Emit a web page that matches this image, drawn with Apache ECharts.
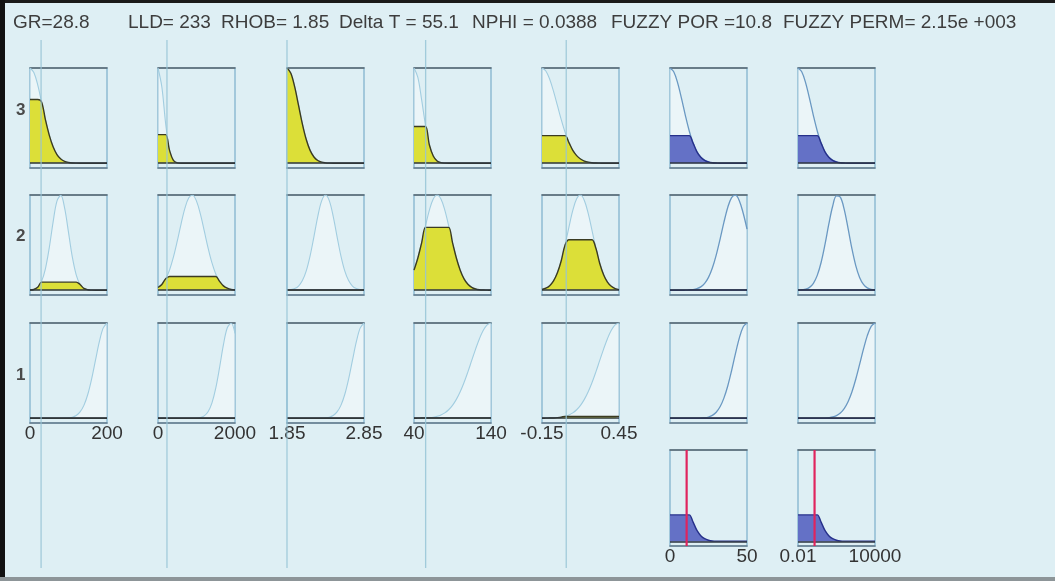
<!DOCTYPE html>
<html><head><meta charset="utf-8">
<script src="https://cdn.jsdelivr.net/npm/echarts@6/dist/echarts.min.js"></script>
<style>html,body{margin:0;padding:0;background:#deeff4;}#c{width:1055px;height:581px;}</style>
</head><body><div id="c"></div>
<script>
// ---------------- data ----------------
const headerTexts = ['GR=28.8', 'LLD= 233', 'RHOB= 1.85', 'Delta T = 55.1', 'NPHI = 0.0388', 'FUZZY POR =10.8', 'FUZZY PERM= 2.15e +003'];
const ruleLabels = ['3', '2', '1'];
const inputValues = [28.8, 233, 1.85, 55.1, 0.0388];
const outputValues = [10.8, 2150];
const ranges = [[0, 200], [0, 2000], [1.85, 2.85], [40, 140], [-0.15, 0.45], [0, 50], [0.01, 10000]];
const tickLabels = [['0', '200'], ['0', '2000'], ['1.85', '2.85'], ['40', '140'], ['-0.15', '0.45'], ['0', '50'], ['0.01', '10000']];
// sample positions (fraction of each variable's range)
const T = [0, 0.05, 0.1, 0.15, 0.2, 0.25, 0.3, 0.35, 0.4, 0.45, 0.5, 0.55, 0.6, 0.65, 0.7, 0.75, 0.8, 0.85, 0.9, 0.95, 1];
// membership curves, rows top->bottom = rule 3, rule 2, rule 1
const mfGR3 = [1, 0.952, 0.823, 0.644, 0.458, 0.295, 0.172, 0.091, 0.044, 0.019, 0.008, 0.003, 0.001, 0, 0, 0, 0, 0, 0, 0, 0];
const mfGR2 = [0.002, 0.008, 0.031, 0.093, 0.225, 0.445, 0.716, 0.936, 0.996, 0.862, 0.607, 0.347, 0.162, 0.061, 0.019, 0.005, 0.001, 0, 0, 0, 0];
const mfGR1 = [0, 0, 0, 0, 0, 0, 0, 0, 0, 0.001, 0.004, 0.011, 0.029, 0.066, 0.135, 0.249, 0.411, 0.607, 0.801, 0.946, 1];
const mfLLD3 = [1, 0.801, 0.411, 0.135, 0.029, 0.004, 0, 0, 0, 0, 0, 0, 0, 0, 0, 0, 0, 0, 0, 0, 0];
const mfLLD2 = [0.029, 0.061, 0.120, 0.213, 0.347, 0.515, 0.698, 0.862, 0.971, 0.998, 0.936, 0.801, 0.625, 0.445, 0.289, 0.171, 0.093, 0.046, 0.021, 0.008, 0.003];
const mfLLD1 = [0, 0, 0, 0, 0, 0, 0, 0, 0, 0, 0.002, 0.008, 0.025, 0.068, 0.158, 0.315, 0.534, 0.772, 0.950, 0.997, 0.891];
const mfRHOB3 = [1, 0.946, 0.801, 0.607, 0.411, 0.249, 0.135, 0.066, 0.029, 0.011, 0.004, 0.001, 0, 0, 0, 0, 0, 0, 0, 0, 0];
const mfRHOB2 = [0.002, 0.006, 0.017, 0.044, 0.101, 0.203, 0.361, 0.563, 0.775, 0.938, 1, 0.938, 0.775, 0.563, 0.361, 0.203, 0.101, 0.044, 0.017, 0.006, 0.002];
const mfRHOB1 = [0, 0, 0, 0, 0, 0, 0, 0, 0, 0.001, 0.004, 0.011, 0.029, 0.066, 0.135, 0.249, 0.411, 0.607, 0.801, 0.946, 1];
const mfDT3 = [1, 0.902, 0.662, 0.395, 0.191, 0.076, 0.024, 0.006, 0.001, 0, 0, 0, 0, 0, 0, 0, 0, 0, 0, 0, 0];
const mfDT2 = [0.211, 0.339, 0.500, 0.678, 0.841, 0.958, 1, 0.958, 0.841, 0.678, 0.500, 0.339, 0.211, 0.120, 0.063, 0.030, 0.013, 0.005, 0.002, 0.001, 0];
const mfDT1 = [0, 0.001, 0.002, 0.003, 0.006, 0.011, 0.020, 0.034, 0.056, 0.089, 0.135, 0.198, 0.278, 0.375, 0.487, 0.607, 0.726, 0.835, 0.923, 0.980, 1];
const mfNPHI3 = [1, 0.969, 0.882, 0.755, 0.607, 0.458, 0.325, 0.216, 0.135, 0.080, 0.044, 0.023, 0.011, 0.005, 0.002, 0.001, 0, 0, 0, 0, 0];
const mfNPHI2 = [0.008, 0.021, 0.048, 0.098, 0.183, 0.310, 0.476, 0.663, 0.838, 0.961, 1, 0.943, 0.806, 0.626, 0.440, 0.281, 0.163, 0.085, 0.041, 0.018, 0.007];
const mfNPHI1 = [0, 0.001, 0.002, 0.003, 0.006, 0.011, 0.020, 0.034, 0.056, 0.089, 0.135, 0.198, 0.278, 0.375, 0.487, 0.607, 0.726, 0.835, 0.923, 0.980, 1];
const mfPOR3 = [1, 0.958, 0.841, 0.678, 0.500, 0.339, 0.211, 0.120, 0.063, 0.030, 0.013, 0.005, 0.002, 0, 0, 0, 0, 0, 0, 0, 0];
const mfPOR2 = [0, 0, 0, 0, 0.001, 0.002, 0.006, 0.016, 0.035, 0.072, 0.135, 0.233, 0.369, 0.535, 0.712, 0.869, 0.973, 0.998, 0.940, 0.811, 0.642];
const mfPOR1 = [0, 0, 0, 0, 0, 0, 0, 0, 0.002, 0.005, 0.013, 0.030, 0.063, 0.120, 0.211, 0.339, 0.500, 0.678, 0.841, 0.958, 1];
const mfPERM3 = [1, 0.958, 0.841, 0.678, 0.500, 0.339, 0.211, 0.120, 0.063, 0.030, 0.013, 0.005, 0.002, 0, 0, 0, 0, 0, 0, 0, 0];
const mfPERM2 = [0.001, 0.004, 0.011, 0.030, 0.073, 0.156, 0.291, 0.478, 0.693, 0.882, 0.990, 0.977, 0.849, 0.650, 0.437, 0.259, 0.135, 0.062, 0.025, 0.009, 0.003];
const mfPERM1 = [0, 0, 0, 0, 0, 0, 0, 0.002, 0.006, 0.013, 0.028, 0.055, 0.102, 0.174, 0.276, 0.409, 0.565, 0.725, 0.867, 0.965, 1];
// degree of membership of each input in each rule's set (rule 3, rule 2, rule 1)
const levelGR = [0.67, 0.085, 0];
const levelLLD = [0.30, 0.145, 0];
const levelRHOB = [1, 0.003, 0];
const levelDT = [0.385, 0.66, 0.003];
const levelNPHI = [0.29, 0.53, 0.02];
const ruleStrength = [0.29, 0.003, 0];

// ---------------- layout & styles ----------------
const mfs = [[mfGR3, mfGR2, mfGR1], [mfLLD3, mfLLD2, mfLLD1], [mfRHOB3, mfRHOB2, mfRHOB1], [mfDT3, mfDT2, mfDT1],
             [mfNPHI3, mfNPHI2, mfNPHI1], [mfPOR3, mfPOR2, mfPOR1], [mfPERM3, mfPERM2, mfPERM1]];
const levels = [levelGR, levelLLD, levelRHOB, levelDT, levelNPHI];
const colLeft = [30, 158, 287, 414, 542, 670, 798];
const colW = 77;
const rowTop = [68, 195, 323, 450];
const rowH = [100, 100, 100, 96];
const headerX = [13, 128, 221, 339, 472, 611, 783];
const rowLabelTop = [102, 228, 367];
const FONT = '"Liberation Sans", Arial, Helvetica, sans-serif';
const YEL = '#dcdf38', YEL_EDGE = '#3b3b22';
const BLU = '#6471c6', BLU_EDGE = '#26308a';

const grids = [], xAxes = [], yAxes = [], series = [];

function addCell(c, r, showLabels) {
  const gi = grids.length;
  const rng = ranges[c];
  grids.push({ left: colLeft[c], top: rowTop[r], width: colW, height: rowH[r], show: true,
    borderColor: '#8ebcd2', borderWidth: 1.5, backgroundColor: 'transparent', containLabel: false, outerBoundsMode: 'none' });
  const lab = tickLabels[c];
  xAxes.push({ gridIndex: gi, type: 'value', min: rng[0], max: rng[1], position: 'bottom',
    axisLine: { show: true, onZero: false, lineStyle: { color: '#66798a', width: 1.5 } },
    axisTick: { show: false }, splitLine: { show: false },
    axisLabel: showLabels ? { show: true, customValues: [rng[0], rng[1]], margin: 1, color: '#333', fontSize: 19, fontFamily: FONT,
      formatter: v => (Math.abs(v - rng[0]) < 1e-9 ? lab[0] : lab[1]) } : { show: false } });
  xAxes.push({ gridIndex: gi, type: 'value', min: rng[0], max: rng[1], position: 'top',
    axisLine: { show: true, onZero: false, lineStyle: { color: '#56636e', width: 1.5 } },
    axisTick: { show: false }, splitLine: { show: false }, axisLabel: { show: false } });
  yAxes.push({ gridIndex: gi, type: 'value', min: -0.05, max: 1, show: false });
  return { gi, xi: xAxes.length - 2, yi: yAxes.length - 1 };
}

const baseLine = (col) => ({ symbol: ['none', 'none'], silent: true, label: { show: false },
  lineStyle: { color: col, width: 1.5, type: 'solid' }, emphasis: { disabled: true }, data: [{ yAxis: 0 }] });

// rule rows
for (let c = 0; c < 7; c++) {
  const rng = ranges[c];
  const isOut = c >= 5;
  for (let r = 0; r < 3; r++) {
    const ax = addCell(c, r, !isOut && r === 2);
    const mf = mfs[c][r];
    const lev = isOut ? ruleStrength[r] : levels[c][r];
    const xs = T.map(t => rng[0] + t * (rng[1] - rng[0]));
    series.push({ type: 'line', xAxisIndex: ax.xi, yAxisIndex: ax.yi, data: xs.map((x, i) => [x, mf[i]]),
      smooth: 0.35, symbol: 'none', silent: true, z: 2,
      lineStyle: { color: isOut ? '#6a98c2' : '#a2cde0', width: isOut ? 1.3 : 1.1 },
      areaStyle: { color: 'rgba(255,255,255,0.55)', origin: 0 } });
    series.push({ type: 'line', xAxisIndex: ax.xi, yAxisIndex: ax.yi, data: xs.map((x, i) => [x, Math.min(mf[i], lev)]),
      smooth: 0.35, symbol: 'none', silent: true, z: 3,
      lineStyle: { color: isOut ? BLU_EDGE : YEL_EDGE, width: 1.4 },
      areaStyle: { color: isOut ? BLU : YEL, opacity: 1, origin: 0 },
      markLine: baseLine('#2e3640') });
  }
}
// aggregated outputs
for (let k = 0; k < 2; k++) {
  const c = 5 + k;
  const rng = ranges[c];
  const ax = addCell(c, 3, true);
  const xs = T.map(t => rng[0] + t * (rng[1] - rng[0]));
  const agg = xs.map((x, i) => [x, Math.max(...[0, 1, 2].map(r => Math.min(mfs[c][r][i], ruleStrength[r])))]);
  series.push({ type: 'line', xAxisIndex: ax.xi, yAxisIndex: ax.yi, data: agg, smooth: 0.35, symbol: 'none', silent: true, z: 3,
    lineStyle: { color: BLU_EDGE, width: 1.4 }, areaStyle: { color: BLU, opacity: 1, origin: 0 }, markLine: baseLine('#2e3640') });
  series.push({ type: 'line', xAxisIndex: ax.xi, yAxisIndex: ax.yi, data: [[outputValues[k], -0.05], [outputValues[k], 1]],
    symbol: 'none', silent: true, z: 6, lineStyle: { color: '#e0245e', width: 2.2 } });
}
// input value lines crossing all rows
for (let c = 0; c < 5; c++) {
  const gi = grids.length;
  const rng = ranges[c];
  grids.push({ left: colLeft[c], top: 40, width: colW, height: 528, show: false, containLabel: false, outerBoundsMode: 'none' });
  xAxes.push({ gridIndex: gi, type: 'value', min: rng[0], max: rng[1], show: false });
  yAxes.push({ gridIndex: gi, type: 'value', min: 0, max: 1, show: false });
  series.push({ type: 'line', xAxisIndex: xAxes.length - 1, yAxisIndex: yAxes.length - 1,
    data: [[inputValues[c], 0], [inputValues[c], 1]], symbol: 'none', silent: true, z: 5,
    lineStyle: { color: 'rgba(150,196,214,0.85)', width: 1.3 } });
}

const graphic = [
  { type: 'rect', left: 0, top: 0, shape: { width: 1055, height: 3 }, style: { fill: '#1a1a1a' }, z: 10 },
  { type: 'rect', left: 0, top: 0, shape: { width: 5, height: 581 }, style: { fill: '#111' }, z: 10 },
  { type: 'rect', left: 0, top: 577, shape: { width: 1055, height: 4 }, style: { fill: '#8d9598' }, z: 10 }
];
headerTexts.forEach((t, i) => graphic.push({ type: 'text', left: headerX[i], top: 13,
  style: { text: t, fill: '#3d3d3d', fontSize: 19, fontFamily: FONT }, z: 10 }));
ruleLabels.forEach((t, i) => graphic.push({ type: 'text', left: 16, top: rowLabelTop[i],
  style: { text: t, fill: '#4a4a4a', fontSize: 17, fontWeight: 'bold', fontFamily: FONT }, z: 10 }));

const chart = echarts.init(document.getElementById('c'), null, { renderer: 'canvas' });
chart.setOption({
  backgroundColor: '#deeff4',
  animation: false,
  grid: grids, xAxis: xAxes, yAxis: yAxes, series: series, graphic: graphic
});
</script></body></html>
